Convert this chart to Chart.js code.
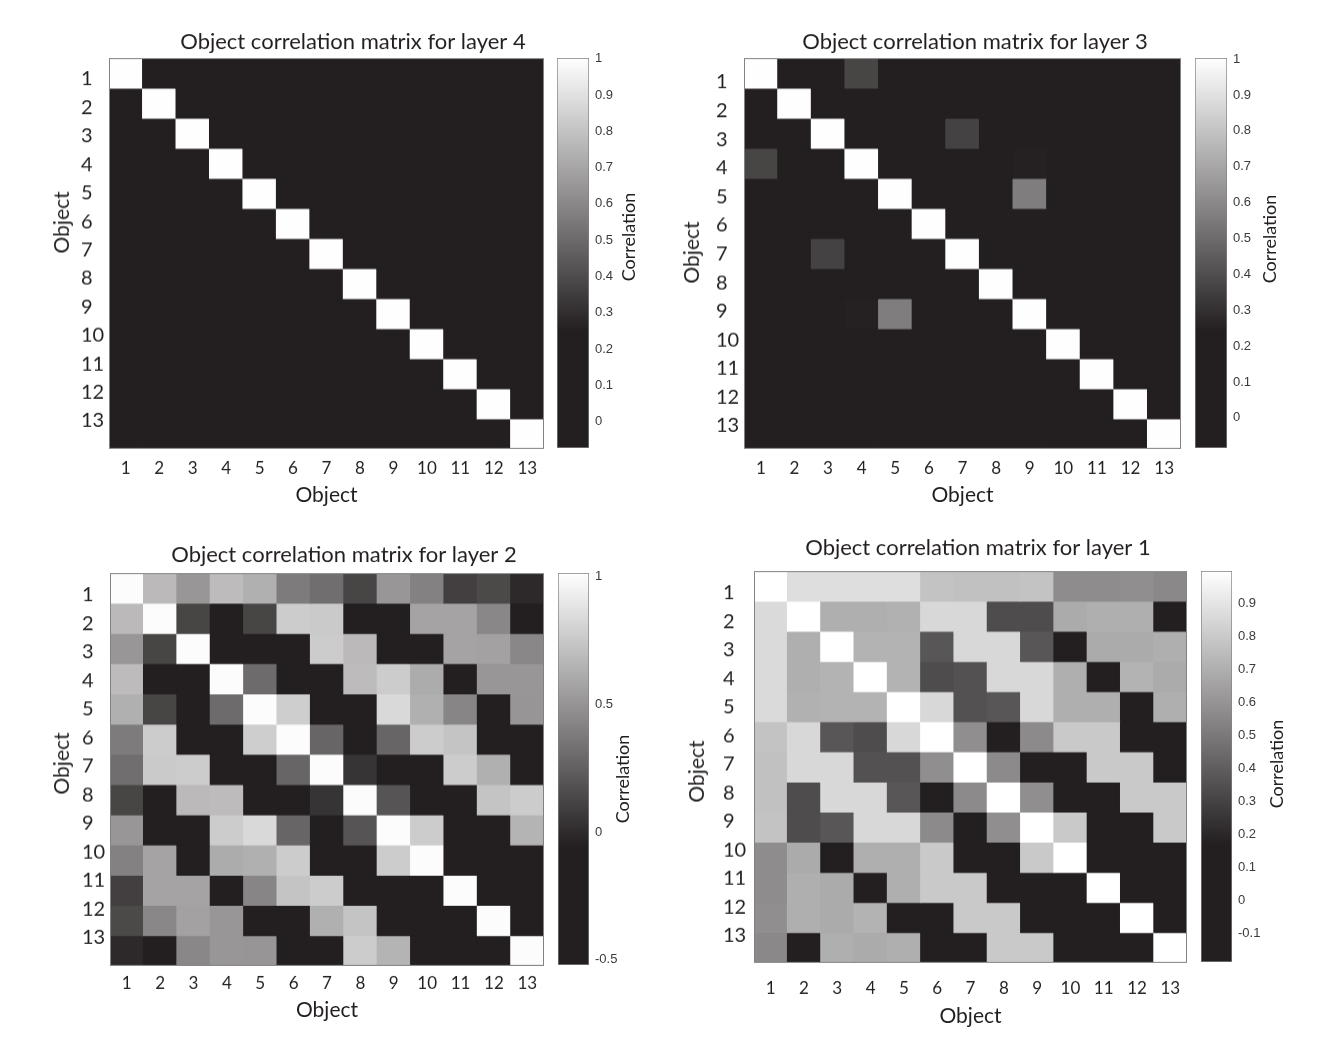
<!DOCTYPE html>
<html>
<head>
<meta charset="utf-8">
<script src="https://cdn.jsdelivr.net/npm/chart.js@4.4.1/dist/chart.umd.min.js"></script>
<style>
html, body { margin: 0; padding: 0; background: #fff; }
body { width: 1337px; height: 1046px; position: relative; overflow: hidden; }
</style>
</head>
<body>
<script>
// object labels, shared by both axes of every matrix
const objects = ['1', '2', '3', '4', '5', '6', '7', '8', '9', '10', '11', '12', '13'];

// correlation matrices (row = object on y axis)
const layer4 = [
    [1.00, 0.03, 0.05, 0.02, 0.04, 0.01, 0.06, 0.03, 0.02, 0.05, 0.04, 0.02, 0.03],
    [0.03, 1.00, 0.04, 0.06, 0.02, 0.05, 0.01, 0.04, 0.03, 0.02, 0.06, 0.04, 0.01],
    [0.05, 0.04, 1.00, 0.03, 0.05, 0.02, 0.04, 0.06, 0.01, 0.03, 0.02, 0.05, 0.04],
    [0.02, 0.06, 0.03, 1.00, 0.04, 0.03, 0.05, 0.02, 0.06, 0.04, 0.01, 0.03, 0.05],
    [0.04, 0.02, 0.05, 0.04, 1.00, 0.06, 0.02, 0.05, 0.03, 0.01, 0.04, 0.06, 0.02],
    [0.01, 0.05, 0.02, 0.03, 0.06, 1.00, 0.04, 0.01, 0.05, 0.03, 0.02, 0.04, 0.06],
    [0.06, 0.01, 0.04, 0.05, 0.02, 0.04, 1.00, 0.03, 0.02, 0.06, 0.05, 0.01, 0.03],
    [0.03, 0.04, 0.06, 0.02, 0.05, 0.01, 0.03, 1.00, 0.04, 0.02, 0.03, 0.05, 0.04],
    [0.02, 0.03, 0.01, 0.06, 0.03, 0.05, 0.02, 0.04, 1.00, 0.05, 0.06, 0.02, 0.01],
    [0.05, 0.02, 0.03, 0.04, 0.01, 0.03, 0.06, 0.02, 0.05, 1.00, 0.04, 0.03, 0.05],
    [0.04, 0.06, 0.02, 0.01, 0.04, 0.02, 0.05, 0.03, 0.06, 0.04, 1.00, 0.02, 0.04],
    [0.02, 0.04, 0.05, 0.03, 0.06, 0.04, 0.01, 0.05, 0.02, 0.03, 0.02, 1.00, 0.06],
    [0.03, 0.01, 0.04, 0.05, 0.02, 0.06, 0.03, 0.04, 0.01, 0.05, 0.04, 0.06, 1.00]
];
const layer3 = [
    [1.00, 0.06, 0.03, 0.37, 0.05, 0.02, 0.08, 0.04, 0.10, 0.03, 0.05, 0.02, 0.04],
    [0.06, 1.00, 0.09, 0.04, 0.02, 0.07, 0.03, 0.05, 0.01, 0.06, 0.04, 0.08, 0.02],
    [0.03, 0.09, 1.00, 0.05, 0.11, 0.04, 0.36, 0.02, 0.06, 0.03, 0.07, 0.05, 0.01],
    [0.37, 0.04, 0.05, 1.00, 0.08, 0.03, 0.06, 0.12, 0.25, 0.04, 0.02, 0.06, 0.05],
    [0.05, 0.02, 0.11, 0.08, 1.00, 0.06, 0.04, 0.03, 0.56, 0.07, 0.05, 0.03, 0.08],
    [0.02, 0.07, 0.04, 0.03, 0.06, 1.00, 0.09, 0.05, 0.02, 0.10, 0.06, 0.04, 0.03],
    [0.08, 0.03, 0.36, 0.06, 0.04, 0.09, 1.00, 0.07, 0.05, 0.02, 0.08, 0.03, 0.06],
    [0.04, 0.05, 0.02, 0.12, 0.03, 0.05, 0.07, 1.00, 0.09, 0.04, 0.03, 0.07, 0.02],
    [0.10, 0.01, 0.06, 0.25, 0.56, 0.02, 0.05, 0.09, 1.00, 0.06, 0.04, 0.05, 0.07],
    [0.03, 0.06, 0.03, 0.04, 0.07, 0.10, 0.02, 0.04, 0.06, 1.00, 0.08, 0.03, 0.05],
    [0.05, 0.04, 0.07, 0.02, 0.05, 0.06, 0.08, 0.03, 0.04, 0.08, 1.00, 0.09, 0.04],
    [0.02, 0.08, 0.05, 0.06, 0.03, 0.04, 0.03, 0.07, 0.05, 0.03, 0.09, 1.00, 0.06],
    [0.04, 0.02, 0.01, 0.05, 0.08, 0.03, 0.06, 0.02, 0.07, 0.05, 0.04, 0.06, 1.00]
];
const layer2 = [
    [1.00, 0.68, 0.51, 0.69, 0.635, 0.38, 0.32, 0.12, 0.51, 0.41, 0.095, 0.14, -0.01],
    [0.68, 1.00, 0.12, -0.30, 0.12, 0.77, 0.76, -0.35, -0.28, 0.575, 0.575, 0.44, -0.32],
    [0.51, 0.12, 1.00, -0.40, -0.33, -0.30, 0.77, 0.68, -0.27, -0.31, 0.575, 0.565, 0.44],
    [0.69, -0.30, -0.40, 1.00, 0.305, -0.26, -0.38, 0.69, 0.77, 0.615, -0.29, 0.51, 0.51],
    [0.635, 0.12, -0.33, 0.305, 1.00, 0.78, -0.42, -0.30, 0.83, 0.635, 0.43, -0.36, 0.505],
    [0.38, 0.77, -0.30, -0.26, 0.78, 1.00, 0.275, -0.34, 0.275, 0.77, 0.73, -0.25, -0.30],
    [0.32, 0.76, 0.77, -0.38, -0.42, 0.275, 1.00, 0.04, -0.30, -0.27, 0.77, 0.635, -0.33],
    [0.12, -0.35, 0.68, 0.69, -0.30, -0.34, 0.04, 1.00, 0.195, -0.24, -0.37, 0.73, 0.77],
    [0.51, -0.28, -0.27, 0.77, 0.83, 0.275, -0.30, 0.195, 1.00, 0.77, -0.29, -0.26, 0.655],
    [0.41, 0.575, -0.31, 0.615, 0.635, 0.77, -0.27, -0.24, 0.77, 1.00, -0.33, -0.30, -0.28],
    [0.095, 0.575, 0.575, -0.29, 0.43, 0.73, 0.77, -0.37, -0.29, -0.33, 1.00, -0.35, -0.31],
    [0.14, 0.44, 0.565, 0.51, -0.36, -0.25, 0.635, 0.73, -0.26, -0.30, -0.35, 1.00, -0.27],
    [-0.01, -0.32, 0.44, 0.51, 0.505, -0.30, -0.33, 0.77, 0.655, -0.28, -0.31, -0.27, 1.00]
];
const layer1 = [
    [1.00, 0.875, 0.875, 0.875, 0.875, 0.777, 0.769, 0.769, 0.777, 0.572, 0.572, 0.58, 0.557],
    [0.86, 1.00, 0.701, 0.701, 0.708, 0.852, 0.852, 0.337, 0.337, 0.686, 0.701, 0.701, 0.05],
    [0.86, 0.701, 1.00, 0.716, 0.716, 0.375, 0.852, 0.852, 0.375, 0.04, 0.686, 0.686, 0.701],
    [0.86, 0.701, 0.716, 1.00, 0.716, 0.337, 0.356, 0.852, 0.852, 0.701, 0.06, 0.716, 0.686],
    [0.86, 0.708, 0.716, 0.716, 1.00, 0.852, 0.356, 0.375, 0.852, 0.701, 0.701, 0.03, 0.701],
    [0.777, 0.852, 0.375, 0.337, 0.852, 1.00, 0.58, 0.02, 0.565, 0.799, 0.799, 0.05, 0.04],
    [0.769, 0.852, 0.852, 0.356, 0.356, 0.58, 1.00, 0.565, 0.03, 0.06, 0.799, 0.799, 0.02],
    [0.769, 0.337, 0.852, 0.852, 0.375, 0.02, 0.565, 1.00, 0.58, 0.05, 0.04, 0.799, 0.799],
    [0.777, 0.337, 0.375, 0.852, 0.852, 0.565, 0.03, 0.58, 1.00, 0.799, 0.06, 0.03, 0.799],
    [0.572, 0.686, 0.04, 0.701, 0.701, 0.799, 0.06, 0.05, 0.799, 1.00, 0.02, 0.05, 0.03],
    [0.572, 0.701, 0.686, 0.06, 0.701, 0.799, 0.799, 0.04, 0.06, 0.02, 1.00, 0.04, 0.06],
    [0.58, 0.701, 0.686, 0.716, 0.03, 0.05, 0.799, 0.799, 0.03, 0.05, 0.04, 1.00, 0.02],
    [0.557, 0.05, 0.701, 0.686, 0.701, 0.04, 0.02, 0.799, 0.799, 0.03, 0.06, 0.02, 1.00]
];

// colour limits and colorbar tick labels of each panel
const range4 = [-0.073, 1.002];
const range3 = [-0.084, 1.003];
const range2 = [-0.52, 1.014];
const range1 = [-0.185, 0.998];
const cbTicks4 = [0, 0.1, 0.2, 0.3, 0.4, 0.5, 0.6, 0.7, 0.8, 0.9, 1];
const cbTicks3 = [0, 0.1, 0.2, 0.3, 0.4, 0.5, 0.6, 0.7, 0.8, 0.9, 1];
const cbTicks2 = [-0.5, 0, 0.5, 1];
const cbTicks1 = [-0.1, 0, 0.1, 0.2, 0.3, 0.4, 0.5, 0.6, 0.7, 0.8, 0.9];

const INK = '#231f20';
const FRAME = '#828282';
const FONT = 'Lato';
const LOW = [35, 31, 32];
const KNEE = 0.3; // bottom part of the grey map that prints as solid black

function shade(v, range) {
    let t = (v - range[0]) / (range[1] - range[0]);
    t = Math.min(1, Math.max(0, t));
    const s = Math.max(0, (t - KNEE) / (1 - KNEE));
    const c = LOW.map(l => Math.round(l + (255 - l) * s));
    return `rgb(${c[0]}, ${c[1]}, ${c[2]})`;
}

const frame = {
    id: 'frame',
    afterDatasetsDraw(chart) {
        const a = chart.chartArea;
        const ctx = chart.ctx;
        ctx.save();
        ctx.strokeStyle = FRAME;
        ctx.lineWidth = 1;
        ctx.strokeRect(Math.round(a.left) + 0.5, Math.round(a.top) + 0.5,
            Math.round(a.right - a.left) - 1, Math.round(a.bottom - a.top) - 1);
        ctx.restore();
    }
};

function place(left, top, width, height) {
    const div = document.createElement('div');
    div.style.cssText = `position:absolute;left:${left}px;top:${top}px;width:${width}px;height:${height}px`;
    const canvas = document.createElement('canvas');
    div.appendChild(canvas);
    document.body.appendChild(div);
    return canvas;
}

function text(ctx, str, x, y, size, rotate) {
    ctx.save();
    ctx.translate(x, y);
    if (rotate) ctx.rotate(-Math.PI / 2);
    ctx.fillStyle = INK;
    ctx.font = `${size}px ${FONT}`;
    ctx.textAlign = 'center';
    ctx.textBaseline = 'middle';
    ctx.fillText(str, 0, 0);
    ctx.restore();
}

const panels = [
    { title: 'Object correlation matrix for layer 4', matrix: layer4, range: range4, ticks: cbTicks4,
      box: { left: 109, right: 544, top: 58, bottom: 448, titleX: 353, titleY: 42, yTitleX: 62, yTitleY: 222, labelX: 81,
             yTick1: 79, yTick13: 420, xTickY: 468, xTitleY: 494, cbLeft: 557, cbRight: 589, cbTitleX: 629, cbTitleY: 237 } },
    { title: 'Object correlation matrix for layer 3', matrix: layer3, range: range3, ticks: cbTicks3,
      box: { left: 744, right: 1181, top: 58, bottom: 448, titleX: 975, titleY: 42, yTitleX: 692, yTitleY: 252, labelX: 716,
             yTick1: 82, yTick13: 425, xTickY: 468, xTitleY: 494, cbLeft: 1195, cbRight: 1227, cbTitleX: 1270, cbTitleY: 239 } },
    { title: 'Object correlation matrix for layer 2', matrix: layer2, range: range2, ticks: cbTicks2,
      box: { left: 110, right: 544, top: 573, bottom: 965, titleX: 344, titleY: 555, yTitleX: 62, yTitleY: 763, labelX: 82,
             yTick1: 595, yTick13: 937, xTickY: 983, xTitleY: 1009, cbLeft: 558, cbRight: 589, cbTitleX: 623, cbTitleY: 779 } },
    { title: 'Object correlation matrix for layer 1', matrix: layer1, range: range1, ticks: cbTicks1,
      box: { left: 754, right: 1187, top: 571, bottom: 962, titleX: 978, titleY: 548, yTitleX: 697, yTitleY: 771, labelX: 723,
             yTick1: 593, yTick13: 935, xTickY: 988, xTitleY: 1015, cbLeft: 1201, cbRight: 1232, cbTitleX: 1277, cbTitleY: 764 } }
];

function drawHeatmap(p) {
    const b = p.box;
    const lh = 21 * 1.2;
    const divLeft = b.yTitleX - 14;
    const divTop = b.titleY - 16;
    const xBottom = b.xTitleY + 4 + lh / 2;
    const canvas = place(divLeft, divTop, b.right - divLeft, xBottom - divTop);
    const n = objects.length;

    const labels = {
        id: 'labels',
        afterDraw(chart) {
            text(chart.ctx, p.title, b.titleX - divLeft, b.titleY - divTop, 22, false);
            text(chart.ctx, 'Object', b.yTitleX - divLeft, b.yTitleY - divTop, 21, true);
        }
    };

    new Chart(canvas, {
        type: 'bar',
        data: {
            labels: objects,
            datasets: p.matrix.map((row, r) => ({
                label: 'Object ' + objects[r],
                data: row.map((v, c) => ({ x: objects[c], y: 1, v: v })),
                backgroundColor: row.map(v => shade(v, p.range)),
                borderWidth: 0,
                barPercentage: 1,
                categoryPercentage: 1,
                inflateAmount: 0.4
            }))
        },
        options: {
            responsive: true,
            maintainAspectRatio: false,
            animation: false,
            layout: { autoPadding: false, padding: { top: b.top - divTop, left: b.labelX - divLeft, right: 0, bottom: 0 } },
            plugins: {
                legend: { display: false },
                tooltip: { enabled: false },
                title: { display: false }
            },
            scales: {
                x: {
                    type: 'category',
                    stacked: true,
                    grid: { display: false, drawTicks: false },
                    border: { display: false },
                    ticks: {
                        color: INK,
                        font: { family: FONT, size: 17, lineHeight: 1.2 },
                        padding: b.xTickY - b.bottom - 17 * 1.2 / 2,
                        maxRotation: 0,
                        autoSkip: false
                    },
                    title: {
                        display: true,
                        text: 'Object',
                        color: INK,
                        font: { family: FONT, size: 21, lineHeight: 1.2 },
                        padding: { top: 0, bottom: 4 }
                    },
                    afterFit: axis => {
                        axis.height = xBottom - b.bottom;
                        axis.paddingLeft = 0;
                        axis.paddingRight = 0;
                    }
                },
                y: {
                    type: 'linear',
                    stacked: true,
                    reverse: true,
                    min: 0,
                    max: n,
                    position: 'left',
                    grid: { display: false, drawTicks: false },
                    border: { display: false },
                    // tick labels sit where the printed figure put them
                    afterBuildTicks: axis => {
                        const step = (b.yTick13 - b.yTick1) / (n - 1);
                        axis.ticks = objects.map((_, i) => ({ value: (b.yTick1 + i * step - b.top) / (b.bottom - b.top) * n }));
                    },
                    ticks: {
                        color: INK,
                        font: { family: FONT, size: 20, lineHeight: 1.2 },
                        crossAlign: 'far',
                        autoSkip: false,
                        callback: (value, index) => objects[index]
                    },
                    afterFit: axis => {
                        axis.width = b.left - b.labelX;
                        axis.paddingTop = 0;
                        axis.paddingBottom = 0;
                    }
                }
            }
        },
        plugins: [frame, labels]
    });
}

function drawColorbar(p) {
    const b = p.box;
    const label = 'Correlation';
    const margin = 12; // room for the end tick labels
    const width = b.cbTitleX + 14 - b.cbLeft;
    const canvas = place(b.cbLeft, b.top - margin, width, b.bottom - b.top + 2 * margin);

    const sideTitle = {
        id: 'sideTitle',
        afterDraw(chart) {
            text(chart.ctx, label, b.cbTitleX - b.cbLeft, b.cbTitleY - b.top + margin, 18, true);
        }
    };

    new Chart(canvas, {
        type: 'bar',
        data: {
            labels: [label],
            datasets: [{
                data: [p.range],
                backgroundColor: ctx => {
                    const chart = ctx.chart;
                    if (!chart.chartArea) return INK;
                    const y = chart.scales.y;
                    const g = chart.ctx.createLinearGradient(0, y.getPixelForValue(p.range[0]), 0, y.getPixelForValue(p.range[1]));
                    g.addColorStop(0, shade(p.range[0], p.range));
                    g.addColorStop(KNEE, shade(p.range[0], p.range));
                    g.addColorStop(1, shade(p.range[1], p.range));
                    return g;
                },
                borderColor: FRAME,
                borderWidth: 1,
                borderSkipped: false,
                barPercentage: 1,
                categoryPercentage: 1
            }]
        },
        options: {
            responsive: true,
            maintainAspectRatio: false,
            animation: false,
            layout: { autoPadding: false, padding: { top: margin, bottom: margin, left: 0, right: 0 } },
            plugins: { legend: { display: false }, tooltip: { enabled: false } },
            scales: {
                x: { display: false },
                y: {
                    type: 'linear',
                    position: 'right',
                    z: 1,
                    min: p.range[0],
                    max: p.range[1],
                    grid: { display: true, drawOnChartArea: false, drawTicks: true, tickLength: -4, color: '#8a8a8a' },
                    border: { display: false },
                    afterBuildTicks: axis => { axis.ticks = p.ticks.map(value => ({ value })); },
                    ticks: {
                        color: '#3a3a3a',
                        font: { family: 'Liberation Sans', size: 13 },
                        padding: 10,
                        autoSkip: false,
                        callback: value => String(value)
                    },
                    afterFit: axis => {
                        axis.width = width - (b.cbRight - b.cbLeft);
                        axis.paddingTop = 0;
                        axis.paddingBottom = 0;
                    }
                }
            }
        },
        plugins: [sideTitle]
    });
}

panels.forEach(p => {
    drawHeatmap(p);
    drawColorbar(p);
});
</script>
</body>
</html>
